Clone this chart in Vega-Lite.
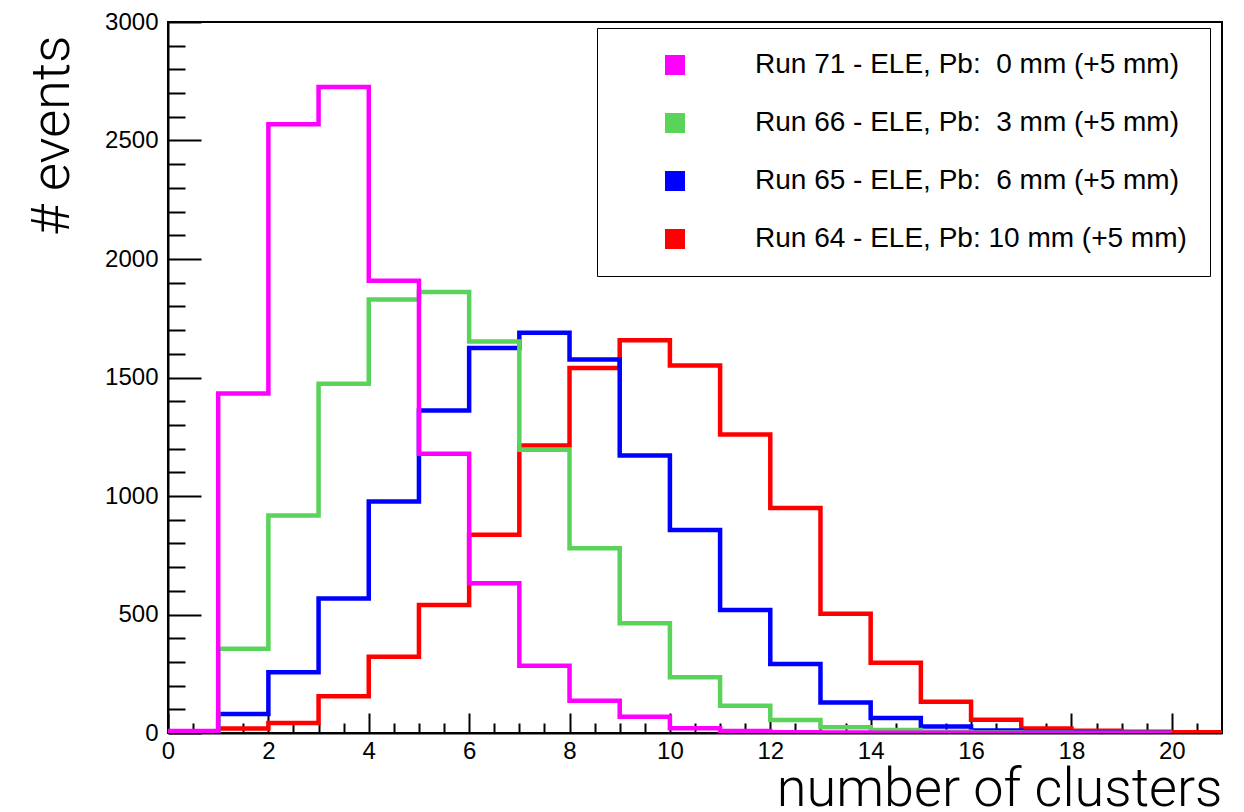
{
  "$schema": "https://vega.github.io/schema/vega-lite/v6.json",
  "width": 1054,
  "height": 711,
  "autosize": {"type": "none"},
  "padding": {"left": 168, "top": 22, "right": 22, "bottom": 79},
  "background": "white",
  "config": {
    "view": {"stroke": "black", "strokeWidth": 2},
    "axis": {
      "domainColor": "black", "domainWidth": 2, "tickColor": "black", "tickWidth": 2,
      "grid": false, "labelColor": "black", "labelFont": "Liberation Sans", "labelFontSize": 24,
      "titleFont": "Roboto", "titleFontWeight": 300, "titleFontSize": 54, "titleColor": "black"
    }
  },
  "data": {
    "values": [
      {"run": "Run 64 - ELE, Pb: 10 mm (+5 mm)", "lo": 0, "hi": 1, "n": 1},
      {"run": "Run 64 - ELE, Pb: 10 mm (+5 mm)", "lo": 1, "hi": 2, "n": 19},
      {"run": "Run 64 - ELE, Pb: 10 mm (+5 mm)", "lo": 2, "hi": 3, "n": 42},
      {"run": "Run 64 - ELE, Pb: 10 mm (+5 mm)", "lo": 3, "hi": 4, "n": 155},
      {"run": "Run 64 - ELE, Pb: 10 mm (+5 mm)", "lo": 4, "hi": 5, "n": 322},
      {"run": "Run 64 - ELE, Pb: 10 mm (+5 mm)", "lo": 5, "hi": 6, "n": 540},
      {"run": "Run 64 - ELE, Pb: 10 mm (+5 mm)", "lo": 6, "hi": 7, "n": 836},
      {"run": "Run 64 - ELE, Pb: 10 mm (+5 mm)", "lo": 7, "hi": 8, "n": 1213},
      {"run": "Run 64 - ELE, Pb: 10 mm (+5 mm)", "lo": 8, "hi": 9, "n": 1540},
      {"run": "Run 64 - ELE, Pb: 10 mm (+5 mm)", "lo": 9, "hi": 10, "n": 1657},
      {"run": "Run 64 - ELE, Pb: 10 mm (+5 mm)", "lo": 10, "hi": 11, "n": 1551},
      {"run": "Run 64 - ELE, Pb: 10 mm (+5 mm)", "lo": 11, "hi": 12, "n": 1260},
      {"run": "Run 64 - ELE, Pb: 10 mm (+5 mm)", "lo": 12, "hi": 13, "n": 949},
      {"run": "Run 64 - ELE, Pb: 10 mm (+5 mm)", "lo": 13, "hi": 14, "n": 503},
      {"run": "Run 64 - ELE, Pb: 10 mm (+5 mm)", "lo": 14, "hi": 15, "n": 296},
      {"run": "Run 64 - ELE, Pb: 10 mm (+5 mm)", "lo": 15, "hi": 16, "n": 132},
      {"run": "Run 64 - ELE, Pb: 10 mm (+5 mm)", "lo": 16, "hi": 17, "n": 56},
      {"run": "Run 64 - ELE, Pb: 10 mm (+5 mm)", "lo": 17, "hi": 18, "n": 19},
      {"run": "Run 64 - ELE, Pb: 10 mm (+5 mm)", "lo": 18, "hi": 19, "n": 9},
      {"run": "Run 64 - ELE, Pb: 10 mm (+5 mm)", "lo": 19, "hi": 20, "n": 5},
      {"run": "Run 64 - ELE, Pb: 10 mm (+5 mm)", "lo": 20, "hi": 21, "n": 3},
      {"run": "Run 65 - ELE, Pb:\u00a0 6 mm (+5 mm)", "lo": 0, "hi": 1, "n": 2},
      {"run": "Run 65 - ELE, Pb:\u00a0 6 mm (+5 mm)", "lo": 1, "hi": 2, "n": 80},
      {"run": "Run 65 - ELE, Pb:\u00a0 6 mm (+5 mm)", "lo": 2, "hi": 3, "n": 256},
      {"run": "Run 65 - ELE, Pb:\u00a0 6 mm (+5 mm)", "lo": 3, "hi": 4, "n": 568},
      {"run": "Run 65 - ELE, Pb:\u00a0 6 mm (+5 mm)", "lo": 4, "hi": 5, "n": 977},
      {"run": "Run 65 - ELE, Pb:\u00a0 6 mm (+5 mm)", "lo": 5, "hi": 6, "n": 1361},
      {"run": "Run 65 - ELE, Pb:\u00a0 6 mm (+5 mm)", "lo": 6, "hi": 7, "n": 1624},
      {"run": "Run 65 - ELE, Pb:\u00a0 6 mm (+5 mm)", "lo": 7, "hi": 8, "n": 1689},
      {"run": "Run 65 - ELE, Pb:\u00a0 6 mm (+5 mm)", "lo": 8, "hi": 9, "n": 1576},
      {"run": "Run 65 - ELE, Pb:\u00a0 6 mm (+5 mm)", "lo": 9, "hi": 10, "n": 1171},
      {"run": "Run 65 - ELE, Pb:\u00a0 6 mm (+5 mm)", "lo": 10, "hi": 11, "n": 857},
      {"run": "Run 65 - ELE, Pb:\u00a0 6 mm (+5 mm)", "lo": 11, "hi": 12, "n": 519},
      {"run": "Run 65 - ELE, Pb:\u00a0 6 mm (+5 mm)", "lo": 12, "hi": 13, "n": 291},
      {"run": "Run 65 - ELE, Pb:\u00a0 6 mm (+5 mm)", "lo": 13, "hi": 14, "n": 129},
      {"run": "Run 65 - ELE, Pb:\u00a0 6 mm (+5 mm)", "lo": 14, "hi": 15, "n": 63},
      {"run": "Run 65 - ELE, Pb:\u00a0 6 mm (+5 mm)", "lo": 15, "hi": 16, "n": 27},
      {"run": "Run 65 - ELE, Pb:\u00a0 6 mm (+5 mm)", "lo": 16, "hi": 17, "n": 11},
      {"run": "Run 65 - ELE, Pb:\u00a0 6 mm (+5 mm)", "lo": 17, "hi": 18, "n": 4},
      {"run": "Run 65 - ELE, Pb:\u00a0 6 mm (+5 mm)", "lo": 18, "hi": 19, "n": 2},
      {"run": "Run 65 - ELE, Pb:\u00a0 6 mm (+5 mm)", "lo": 19, "hi": 20, "n": 1},
      {"run": "Run 66 - ELE, Pb:\u00a0 3 mm (+5 mm)", "lo": 0, "hi": 1, "n": 3},
      {"run": "Run 66 - ELE, Pb:\u00a0 3 mm (+5 mm)", "lo": 1, "hi": 2, "n": 355},
      {"run": "Run 66 - ELE, Pb:\u00a0 3 mm (+5 mm)", "lo": 2, "hi": 3, "n": 918},
      {"run": "Run 66 - ELE, Pb:\u00a0 3 mm (+5 mm)", "lo": 3, "hi": 4, "n": 1474},
      {"run": "Run 66 - ELE, Pb:\u00a0 3 mm (+5 mm)", "lo": 4, "hi": 5, "n": 1829},
      {"run": "Run 66 - ELE, Pb:\u00a0 3 mm (+5 mm)", "lo": 5, "hi": 6, "n": 1861},
      {"run": "Run 66 - ELE, Pb:\u00a0 3 mm (+5 mm)", "lo": 6, "hi": 7, "n": 1652},
      {"run": "Run 66 - ELE, Pb:\u00a0 3 mm (+5 mm)", "lo": 7, "hi": 8, "n": 1195},
      {"run": "Run 66 - ELE, Pb:\u00a0 3 mm (+5 mm)", "lo": 8, "hi": 9, "n": 780},
      {"run": "Run 66 - ELE, Pb:\u00a0 3 mm (+5 mm)", "lo": 9, "hi": 10, "n": 463},
      {"run": "Run 66 - ELE, Pb:\u00a0 3 mm (+5 mm)", "lo": 10, "hi": 11, "n": 235},
      {"run": "Run 66 - ELE, Pb:\u00a0 3 mm (+5 mm)", "lo": 11, "hi": 12, "n": 115},
      {"run": "Run 66 - ELE, Pb:\u00a0 3 mm (+5 mm)", "lo": 12, "hi": 13, "n": 55},
      {"run": "Run 66 - ELE, Pb:\u00a0 3 mm (+5 mm)", "lo": 13, "hi": 14, "n": 24},
      {"run": "Run 66 - ELE, Pb:\u00a0 3 mm (+5 mm)", "lo": 14, "hi": 15, "n": 13},
      {"run": "Run 66 - ELE, Pb:\u00a0 3 mm (+5 mm)", "lo": 15, "hi": 16, "n": 5},
      {"run": "Run 66 - ELE, Pb:\u00a0 3 mm (+5 mm)", "lo": 16, "hi": 17, "n": 2},
      {"run": "Run 66 - ELE, Pb:\u00a0 3 mm (+5 mm)", "lo": 17, "hi": 18, "n": 1},
      {"run": "Run 66 - ELE, Pb:\u00a0 3 mm (+5 mm)", "lo": 18, "hi": 19, "n": 0},
      {"run": "Run 66 - ELE, Pb:\u00a0 3 mm (+5 mm)", "lo": 19, "hi": 20, "n": 0},
      {"run": "Run 71 - ELE, Pb:\u00a0 0 mm (+5 mm)", "lo": 0, "hi": 1, "n": 8},
      {"run": "Run 71 - ELE, Pb:\u00a0 0 mm (+5 mm)", "lo": 1, "hi": 2, "n": 1432},
      {"run": "Run 71 - ELE, Pb:\u00a0 0 mm (+5 mm)", "lo": 2, "hi": 3, "n": 2569},
      {"run": "Run 71 - ELE, Pb:\u00a0 0 mm (+5 mm)", "lo": 3, "hi": 4, "n": 2726},
      {"run": "Run 71 - ELE, Pb:\u00a0 0 mm (+5 mm)", "lo": 4, "hi": 5, "n": 1908},
      {"run": "Run 71 - ELE, Pb:\u00a0 0 mm (+5 mm)", "lo": 5, "hi": 6, "n": 1178},
      {"run": "Run 71 - ELE, Pb:\u00a0 0 mm (+5 mm)", "lo": 6, "hi": 7, "n": 632},
      {"run": "Run 71 - ELE, Pb:\u00a0 0 mm (+5 mm)", "lo": 7, "hi": 8, "n": 284},
      {"run": "Run 71 - ELE, Pb:\u00a0 0 mm (+5 mm)", "lo": 8, "hi": 9, "n": 136},
      {"run": "Run 71 - ELE, Pb:\u00a0 0 mm (+5 mm)", "lo": 9, "hi": 10, "n": 69},
      {"run": "Run 71 - ELE, Pb:\u00a0 0 mm (+5 mm)", "lo": 10, "hi": 11, "n": 20},
      {"run": "Run 71 - ELE, Pb:\u00a0 0 mm (+5 mm)", "lo": 11, "hi": 12, "n": 8},
      {"run": "Run 71 - ELE, Pb:\u00a0 0 mm (+5 mm)", "lo": 12, "hi": 13, "n": 3},
      {"run": "Run 71 - ELE, Pb:\u00a0 0 mm (+5 mm)", "lo": 13, "hi": 14, "n": 2},
      {"run": "Run 71 - ELE, Pb:\u00a0 0 mm (+5 mm)", "lo": 14, "hi": 15, "n": 1},
      {"run": "Run 71 - ELE, Pb:\u00a0 0 mm (+5 mm)", "lo": 15, "hi": 16, "n": 1},
      {"run": "Run 71 - ELE, Pb:\u00a0 0 mm (+5 mm)", "lo": 16, "hi": 17, "n": 0},
      {"run": "Run 71 - ELE, Pb:\u00a0 0 mm (+5 mm)", "lo": 17, "hi": 18, "n": 0},
      {"run": "Run 71 - ELE, Pb:\u00a0 0 mm (+5 mm)", "lo": 18, "hi": 19, "n": 0},
      {"run": "Run 71 - ELE, Pb:\u00a0 0 mm (+5 mm)", "lo": 19, "hi": 20, "n": 0}
    ]
  },
  "transform": [
    {"fold": ["lo", "hi"], "as": ["edge", "x"]}
  ],
  "resolve": {"axis": {"x": "independent", "y": "independent"}},
  "layer": [
    {
      "mark": {"type": "line", "strokeWidth": 4.5, "strokeJoin": "miter", "clip": true},
      "encoding": {
        "x": {
          "field": "x", "type": "quantitative",
          "scale": {"domain": [0, 21], "nice": false, "zero": false},
          "axis": {
            "orient": "bottom",
            "title": "number of clusters",
            "values": [0,2,4,6,8,10,12,14,16,18,20],
            "tickSize": -20,
            "format": "d",
            "labelPadding": 26,
            "labelFlush": false,
            "titleAnchor": "end",
            "titleAlign": "right",
            "titleBaseline": "alphabetic",
            "titleX": 1054,
            "titleY": 72
          }
        },
        "y": {
          "field": "n", "type": "quantitative",
          "scale": {"domain": [0, 3000], "nice": false},
          "axis": {
            "orient": "left",
            "title": "# events",
            "values": [0,500,1000,1500,2000,2500,3000],
            "tickSize": -33,
            "format": "d",
            "labelPadding": 43,
            "labelFlush": false,
            "titleAnchor": "end",
            "titleAngle": -90,
            "titleAlign": "right",
            "titleBaseline": "alphabetic",
            "titleX": -100,
            "titleY": 13
          }
        },
        "color": {
          "field": "run", "type": "nominal",
          "scale": {
            "domain": ["Run 71 - ELE, Pb:\u00a0 0 mm (+5 mm)", "Run 66 - ELE, Pb:\u00a0 3 mm (+5 mm)", "Run 65 - ELE, Pb:\u00a0 6 mm (+5 mm)", "Run 64 - ELE, Pb: 10 mm (+5 mm)"],
            "range": ["#ff00ff", "#5ad35a", "#0000ff", "#ff0000"]
          },
          "legend": {
            "orient": "none", "legendX": 429, "legendY": 6,
            "title": null,
            "symbolType": "square", "symbolSize": 400, "symbolStrokeWidth": 0,
            "symbolOffset": 41, "labelOffset": 66,
            "labelFont": "Liberation Sans", "labelFontSize": 28, "labelColor": "black", "labelLimit": 1000,
            "rowPadding": 30, "padding": 23,
            "strokeColor": "black", "fillColor": "white",
            "encode": {"symbols": {"update": {"fill": {"scale": "color", "field": "value"}, "fillOpacity": {"value": 1}}}}
          }
        },
        "order": {"field": "x", "type": "quantitative"}
      }
    },
    {
      "mark": {"type": "line", "opacity": 0, "clip": true},
      "encoding": {
        "x": {
          "field": "x", "type": "quantitative",
          "axis": {
            "orient": "bottom",
            "title": null,
            "values": [0.5,1,1.5,2.5,3,3.5,4.5,5,5.5,6.5,7,7.5,8.5,9,9.5,10.5,11,11.5,12.5,13,13.5,14.5,15,15.5,16.5,17,17.5,18.5,19,19.5,20.5],
            "tickSize": -10,
            "labels": false,
            "domain": false
          }
        },
        "y": {
          "field": "n", "type": "quantitative",
          "axis": {
            "orient": "left",
            "title": null,
            "values": [100,200,300,400,600,700,800,900,1100,1200,1300,1400,1600,1700,1800,1900,2100,2200,2300,2400,2600,2700,2800,2900],
            "tickSize": -17,
            "labels": false,
            "domain": false
          }
        },
        "order": {"field": "x", "type": "quantitative"}
      }
    }
  ]
}
